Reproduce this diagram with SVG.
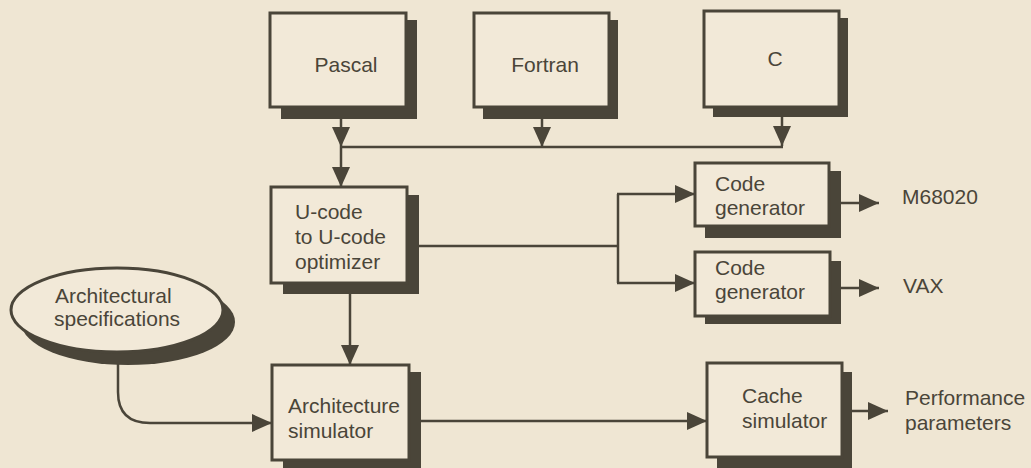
<svg xmlns="http://www.w3.org/2000/svg" width="1031" height="468" viewBox="0 0 1031 468">
<style>
.bg{fill:#efe6d3}
.box{fill:#f2e9d8;stroke:#4a4539;stroke-width:3}
.sh{fill:#4a4539}
.t{font-family:"Liberation Sans",Arial,sans-serif;font-size:21px;fill:#4a4539}
.ln{fill:none;stroke:#4a4539;stroke-width:2.5}
</style>
<defs>
<marker id="ah" viewBox="0 0 20 18" refX="20" refY="9" markerWidth="20" markerHeight="18" markerUnits="userSpaceOnUse" orient="auto">
<path d="M0,0 L20,9 L0,18 z" fill="#4a4539"/>
</marker>
</defs>
<rect class="bg" x="0" y="0" width="1031" height="468"/>

<g id="connectors">
<path class="ln" d="M341,119 V147" marker-end="url(#ah)"/>
<path class="ln" d="M542,119 V147" marker-end="url(#ah)"/>
<path class="ln" d="M782,117 V146" marker-end="url(#ah)"/>
<path class="ln" d="M340,147 H783"/>
<path class="ln" d="M341,147 V187" marker-end="url(#ah)"/>
<path class="ln" d="M419,246 H618"/>
<path class="ln" d="M618,194 V283"/>
<path class="ln" d="M617,194 H695" marker-end="url(#ah)"/>
<path class="ln" d="M617,283 H695" marker-end="url(#ah)"/>
<path class="ln" d="M841,203 H879" marker-end="url(#ah)"/>
<path class="ln" d="M841,288 H879" marker-end="url(#ah)"/>
<path class="ln" d="M350,294 V365" marker-end="url(#ah)"/>
<path class="ln" d="M118,363 V392 Q118,423 150,423 H272" marker-end="url(#ah)"/>
<path class="ln" d="M421,421 H707" marker-end="url(#ah)"/>
<path class="ln" d="M852,411 H888" marker-end="url(#ah)"/>
</g>

<g id="pascal">
<rect class="sh" x="281" y="20" width="136" height="99"/>
<rect class="box" x="270" y="13" width="136" height="94"/>
<text class="t" x="346" y="72" text-anchor="middle">Pascal</text>
</g>
<g id="fortran">
<rect class="sh" x="483" y="20" width="135" height="99"/>
<rect class="box" x="474" y="13" width="135" height="94"/>
<text class="t" x="545" y="72" text-anchor="middle">Fortran</text>
</g>
<g id="c">
<rect class="sh" x="713" y="18" width="135" height="99"/>
<rect class="box" x="704" y="11" width="135" height="96"/>
<text class="t" x="775" y="66" text-anchor="middle">C</text>
</g>
<g id="ucode">
<rect class="sh" x="283" y="195" width="136" height="99"/>
<rect class="box" x="271" y="187" width="136" height="96"/>
<text class="t" x="295" y="219">U-code</text>
<text class="t" x="295" y="244">to U-code</text>
<text class="t" x="295" y="269">optimizer</text>
</g>
<g id="codegen1">
<rect class="sh" x="705" y="171" width="136" height="67"/>
<rect class="box" x="695" y="163" width="134" height="63"/>
<text class="t" x="715" y="191">Code</text>
<text class="t" x="715" y="215">generator</text>
</g>
<g id="codegen2">
<rect class="sh" x="705" y="261" width="136" height="63"/>
<rect class="box" x="695" y="252" width="135" height="64"/>
<text class="t" x="715" y="275">Code</text>
<text class="t" x="715" y="299">generator</text>
</g>
<g id="m68020">
<text class="t" x="902" y="204">M68020</text>
</g>
<g id="vax">
<text class="t" x="903" y="293">VAX</text>
</g>
<g id="archspec">
<ellipse class="sh" cx="128" cy="322" rx="107" ry="43"/>
<ellipse class="box" cx="117" cy="310" rx="106" ry="42"/>
<text class="t" x="55" y="303">Architectural</text>
<text class="t" x="54" y="326">specifications</text>
</g>
<g id="archsim">
<rect class="sh" x="283" y="372" width="138" height="100"/>
<rect class="box" x="272" y="365" width="137" height="95"/>
<text class="t" x="288" y="413">Architecture</text>
<text class="t" x="288" y="438">simulator</text>
</g>
<g id="cachesim">
<rect class="sh" x="717" y="372" width="135" height="100"/>
<rect class="box" x="707" y="363" width="135" height="94"/>
<text class="t" x="742" y="403">Cache</text>
<text class="t" x="742" y="428">simulator</text>
</g>
<g id="perf">
<text class="t" x="905" y="405">Performance</text>
<text class="t" x="905" y="430">parameters</text>
</g>
</svg>
